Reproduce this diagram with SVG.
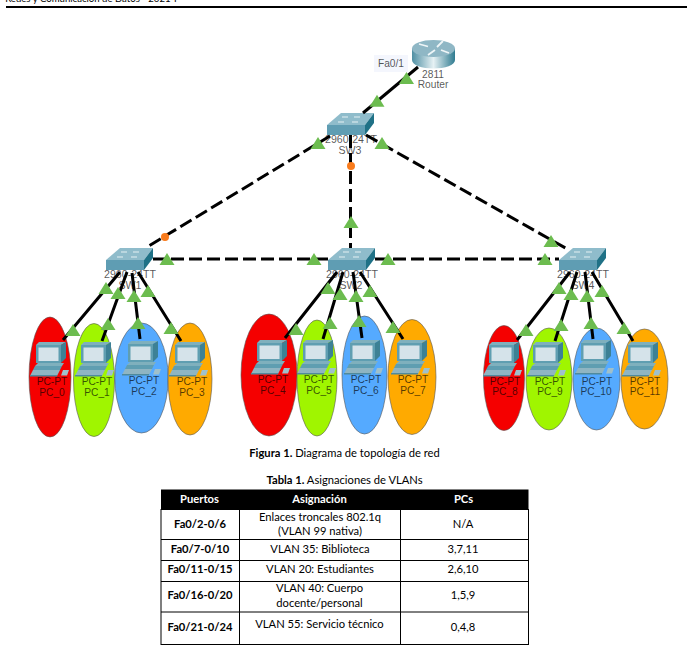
<svg xmlns="http://www.w3.org/2000/svg" width="687" height="660" viewBox="0 0 687 660">
<style>
text{font-family:"Liberation Sans",Arial,sans-serif;font-size:10.2px;text-anchor:middle;fill:#000;fill-opacity:.68}
.t text,text.t{font-family:Lato,"Open Sans",sans-serif;font-size:11.2px;fill:#000;fill-opacity:1}
.b{font-weight:700}
.sl{font-size:10.6px}
.link{stroke:#000;stroke-width:3;fill:none}
.dash{stroke-dasharray:13 5}
.pc{stroke:#555;stroke-width:.6}
.grid{stroke:#000;stroke-width:1;fill:none}
</style>
<defs>
<linearGradient id="rg" x1="0" x2="1" y1="0" y2="0"><stop offset="0" stop-color="#4f8fa3"/><stop offset=".5" stop-color="#e6f1f4"/><stop offset="1" stop-color="#2f7b90"/></linearGradient>
<g id="pcicon">
<polygon points="0,3 3,0 30,0 25,3" fill="#7fb0bd"/>
<polygon points="25,3 30,0 30,16 25,21" fill="#3d8195"/>
<rect x="0" y="3" width="25" height="18" fill="#5f9eb1"/>
<rect x="2.500" y="5.500" width="20" height="13.500" fill="#d5e3ea"/>
<polygon points="-1,24 2,21 28,21 26,24" fill="#7fb0bd"/>
<polygon points="-1,24 26,24 24,28 -3,28" fill="#5f9eb1"/>
<polygon points="-3,28 24,28 21,34 -6,34" fill="#8fb5c2"/>
<polygon points="-6,33 21,33 21,34.500 -6,34.500" fill="#4f8a9d"/>
<polygon points="27,28 33,28 31,33.500 25,33.500" fill="#9fc0cb"/>
</g>
<g id="switch">
<polygon points="0,0 14,-12 47,-12 38,0" fill="#8fbccb"/>
<polygon points="38,0 47,-12 47,-2 38,10" fill="#1f7186"/>
<rect x="0" y="0" width="38" height="10" fill="#5f9db3"/>
<path d="M15-8h6M27-8h6M11-3h6M25-3h6" stroke="#e4f0f3" stroke-width="1"/>
</g>
<polygon id="tri" points="0,-6 7.500,6 -7.500,6" fill="#6cbc4f"/>
</defs>

<rect width="687" height="660" fill="#fff"/>
<text class="t" x="91" y="1.500" style="font-size:9.600px">Redes y Comunicación de Datos - 2021-I</text>
<rect x="6" y="6" width="681" height="2" fill="#000"/>

<g id="pc0"><ellipse class="pc" cx="50" cy="377" rx="21" ry="60" fill="#f50000"/><use href="#pcicon" x="36" y="342"/><text x="52" y="385">PC-PT</text><text x="52" y="396">PC_0</text></g>
<g id="pc1"><ellipse class="pc" cx="94" cy="380" rx="20.500" ry="56.500" fill="#a0f500"/><use href="#pcicon" x="81" y="342"/><text x="97" y="385">PC-PT</text><text x="97" y="396">PC_1</text></g>
<g id="pc2"><ellipse class="pc" cx="141.500" cy="378" rx="26.700" ry="55" fill="#55aaff"/><use href="#pcicon" x="128" y="341"/><text x="144" y="384">PC-PT</text><text x="144" y="395">PC_2</text></g>
<g id="pc3"><ellipse class="pc" cx="190" cy="379" rx="22" ry="56" fill="#ffaa00"/><use href="#pcicon" x="175" y="342"/><text x="192" y="385">PC-PT</text><text x="192" y="396">PC_3</text></g>
<g id="pc4"><ellipse class="pc" cx="269" cy="375" rx="28" ry="61" fill="#f50000"/><use href="#pcicon" x="257" y="340"/><text x="273" y="383">PC-PT</text><text x="273" y="394">PC_4</text></g>
<g id="pc5"><ellipse class="pc" cx="317" cy="378" rx="20" ry="58" fill="#a0f500"/><use href="#pcicon" x="303" y="340"/><text x="319" y="383">PC-PT</text><text x="319" y="394">PC_5</text></g>
<g id="pc6"><ellipse class="pc" cx="364.500" cy="375" rx="22.500" ry="59" fill="#55aaff"/><use href="#pcicon" x="350" y="340"/><text x="366" y="383">PC-PT</text><text x="366" y="394">PC_6</text></g>
<g id="pc7"><ellipse class="pc" cx="412" cy="377" rx="24" ry="57.500" fill="#ffaa00"/><use href="#pcicon" x="397" y="340"/><text x="413" y="383">PC-PT</text><text x="413" y="394">PC_7</text></g>
<g id="pc8"><ellipse class="pc" cx="504" cy="378" rx="20.500" ry="52.500" fill="#f50000"/><use href="#pcicon" x="489" y="342"/><text x="505" y="385">PC-PT</text><text x="505" y="395">PC_8</text></g>
<g id="pc9"><ellipse class="pc" cx="549" cy="379" rx="23" ry="51" fill="#a0f500"/><use href="#pcicon" x="533" y="342"/><text x="550" y="385">PC-PT</text><text x="550" y="395">PC_9</text></g>
<g id="pc10"><ellipse class="pc" cx="596.500" cy="379" rx="23.500" ry="51" fill="#55aaff"/><use href="#pcicon" x="581" y="340"/><text x="597" y="385">PC-PT</text><text x="596" y="395">PC_10</text></g>
<g id="pc11"><ellipse class="pc" cx="644.500" cy="379" rx="23.500" ry="50" fill="#ffaa00"/><use href="#pcicon" x="628" y="342"/><text x="645" y="385">PC-PT</text><text x="645" y="395">PC_11</text></g>

<g id="router">
<path d="M412 48.500V60c0 5 10 8.500 21.500 8.500S455 65 455 60V48.500z" fill="url(#rg)"/>
<ellipse cx="433.500" cy="48.500" rx="21.500" ry="8.500" fill="#8fb7c5"/>
<path d="M419 44l9 2.500M428 55l7-5M437 47l6-6M441 50l8 3" stroke="#eef5f7" stroke-width="1.800" fill="none"/>
<text x="433" y="78">2811</text><text x="433" y="88">Router</text>
</g>
<g id="fa01"><rect x="374" y="55" width="34" height="17" fill="#f4f6fd"/><text x="391" y="67">Fa0/1</text></g>
<g id="sw3"><use href="#switch" x="327" y="125"/><text class="sl" x="351" y="143">2960-24TT</text><text class="sl" x="350" y="154">SW3</text></g>
<g id="sw1"><use href="#switch" x="106" y="260"/><text class="sl" x="130" y="278">2960-24TT</text><text class="sl" x="130" y="289">SW1</text></g>
<g id="sw2"><use href="#switch" x="328" y="260"/><text class="sl" x="352" y="278">2960-24TT</text><text class="sl" x="351" y="289">SW2</text></g>
<g id="sw4"><use href="#switch" x="559" y="260"/><text class="sl" x="583" y="278">2960-24TT</text><text class="sl" x="583" y="289">SW4</text></g>

<g id="connectors">
<path class="link" d="M418 67L363 113"/>
<path class="link dash" d="M330 136L147 247"/>
<path class="link dash" d="M350.500 135V248"/>
<path class="link dash" d="M366 135L569 250"/>
<path class="link dash" d="M153 259H328"/>
<path class="link dash" d="M375 259H559"/>
<path class="link" d="M120 272L63 340M127 272L102 341M132 273L140 339M138 272L181 341"/>
<path class="link" d="M337 272L285 338M343 272L323 339M353 272L362 338M360 272L403 339"/>
<path class="link" d="M570 272L517 340M577 272L555 341M585 272L593 339M592 272L633 341"/>
<circle cx="351" cy="166" r="4" fill="#f97b1c"/>
<circle cx="165" cy="237" r="4" fill="#f97b1c"/>
<use href="#tri" x="406.500" y="78"/>
<use href="#tri" x="377" y="100.700"/>
<use href="#tri" x="318" y="143"/><use href="#tri" x="382" y="143"/>
<use href="#tri" x="351" y="222"/><use href="#tri" x="551" y="241"/>
<use href="#tri" x="167" y="259"/><use href="#tri" x="314" y="259"/><use href="#tri" x="388" y="259"/><use href="#tri" x="545" y="259"/>
<use href="#tri" x="106" y="288"/><use href="#tri" x="118" y="293"/><use href="#tri" x="134" y="296"/><use href="#tri" x="148" y="291"/>
<use href="#tri" x="73" y="330"/><use href="#tri" x="108" y="324"/><use href="#tri" x="138" y="323"/><use href="#tri" x="171" y="328"/>
<use href="#tri" x="328" y="288"/><use href="#tri" x="340" y="294"/><use href="#tri" x="356" y="296"/><use href="#tri" x="370" y="291"/>
<use href="#tri" x="296" y="329"/><use href="#tri" x="330" y="323"/><use href="#tri" x="359" y="321"/><use href="#tri" x="393" y="327"/>
<use href="#tri" x="559" y="288"/><use href="#tri" x="571" y="294"/><use href="#tri" x="587" y="296"/><use href="#tri" x="602" y="291"/>
<use href="#tri" x="526" y="330"/><use href="#tri" x="561" y="325"/><use href="#tri" x="591" y="323"/><use href="#tri" x="624" y="328"/>
</g>

<g id="captions" class="t">
<text x="344.500" y="457"><tspan class="b">Figura 1.</tspan> Diagrama de topología de red</text>
<text x="344.500" y="484"><tspan class="b">Tabla 1.</tspan> Asignaciones de VLANs</text>
</g>
<g id="table" class="t">
<rect x="161" y="489.500" width="367.500" height="20" fill="#000"/>
<rect class="grid" x="161" y="509.500" width="367.500" height="135"/>
<path class="grid" d="M239.500 509.500V644.500M400.500 509.500V644.500M161 539.500H528.500M161 560.500H528.500M161 581.500H528.500M161 612H528.500"/>
<text class="b" x="199.500" y="502.700" style="fill:#fff">Puertos</text><text class="b" x="319.500" y="502.700" style="fill:#fff">Asignación</text><text class="b" x="463.500" y="502.700" style="fill:#fff">PCs</text>
<text class="b" x="200" y="527.700">Fa0/2-0/6</text><text x="320" y="521">Enlaces troncales 802.1q</text><text x="320" y="535">(VLAN 99 nativa)</text><text x="463" y="527.700">N/A</text>
<text class="b" x="200" y="552.700">Fa0/7-0/10</text><text x="320" y="552.700">VLAN 35: Biblioteca</text><text x="463" y="552.700">3,7,11</text>
<text class="b" x="200" y="573.300">Fa0/11-0/15</text><text x="320" y="573.300">VLAN 20: Estudiantes</text><text x="463" y="573.300">2,6,10</text>
<text class="b" x="200" y="599">Fa0/16-0/20</text><text x="319.500" y="591.700">VLAN 40: Cuerpo</text><text x="319.500" y="606.700">docente/personal</text><text x="463" y="599">1,5,9</text>
<text class="b" x="200" y="630.700">Fa0/21-0/24</text><text x="319.500" y="627.700">VLAN 55: Servicio técnico</text><text x="463" y="630.700">0,4,8</text>
</g>
</svg>
